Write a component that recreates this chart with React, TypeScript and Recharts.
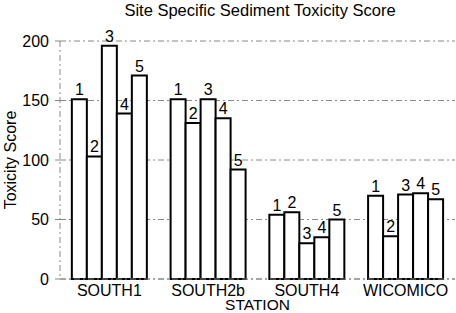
import React from "react";
import { BarChart, Bar, XAxis, YAxis, CartesianGrid, LabelList } from "recharts";

const stations = ["SOUTH1", "SOUTH2b", "SOUTH4", "WICOMICO"];
const score1 = [151, 151, 54, 70];
const score2 = [103, 131, 56, 36];
const score3 = [196, 151, 30, 71];
const score4 = [139, 135, 35, 72];
const score5 = [171, 92, 50, 67];
const seriesNames = ["1", "2", "3", "4", "5"];
const yTicks = [0, 50, 100, 150, 200];

const data = stations.map((s, i) => ({
  station: s,
  s1: score1[i],
  s2: score2[i],
  s3: score3[i],
  s4: score4[i],
  s5: score5[i],
}));

const FONT = "Arial, 'Liberation Sans', sans-serif";

export default function App() {
  const keys = ["s1", "s2", "s3", "s4", "s5"];
  return (
    <div style={{ position: "absolute", left: 0, top: 0, width: 456, height: 313, background: "#fff", fontFamily: FONT }}>
      <div style={{ position: "absolute", left: 0, width: 520, top: 1, textAlign: "center", fontSize: 16.5, color: "#000" }}>
        Site Specific Sediment Toxicity Score
      </div>
      <BarChart
        width={456}
        height={313}
        data={data}
        margin={{ top: 41, right: 1, bottom: 0, left: 0 }}
        barCategoryGap="12%"
        barGap={0}
      >
        <CartesianGrid vertical={false} stroke="#888" strokeDasharray="6 3 2 3" />
        <XAxis
          dataKey="station"
          height={34}
          tickLine={false}
          axisLine={{ stroke: "#888", strokeDasharray: "6 3 2 3" }}
          tick={{ fontSize: 16, fill: "#000", fontFamily: FONT }}
          tickMargin={0}
          interval={0}
          label={{ value: "STATION", position: "insideBottom", offset: 3, fontSize: 15.5, fill: "#000", fontFamily: FONT }}
        />
        <YAxis
          width={60}
          domain={[0, 200]}
          ticks={yTicks}
          interval={0}
          tickSize={5}
          tickLine={{ stroke: "#888" }}
          axisLine={{ stroke: "#888", strokeDasharray: "6 3 2 3" }}
          tick={{ fontSize: 16, fill: "#000", fontFamily: FONT }}
          tickMargin={6}
          label={{ value: "Toxicity Score", angle: -90, position: "insideLeft", offset: 10, fontSize: 16, fill: "#000", fontFamily: FONT, style: { textAnchor: "middle" } }}
        />
        {keys.map((k, i) => (
          <Bar key={k} dataKey={k} name={seriesNames[i]} fill="#fff" stroke="#000" strokeWidth={2} isAnimationActive={false}>
            <LabelList
              dataKey={k}
              position="top"
              offset={4}
              formatter={() => seriesNames[i]}
              style={{ fontSize: 16, fill: "#000", fontFamily: FONT }}
            />
          </Bar>
        ))}
      </BarChart>
    </div>
  );
}
